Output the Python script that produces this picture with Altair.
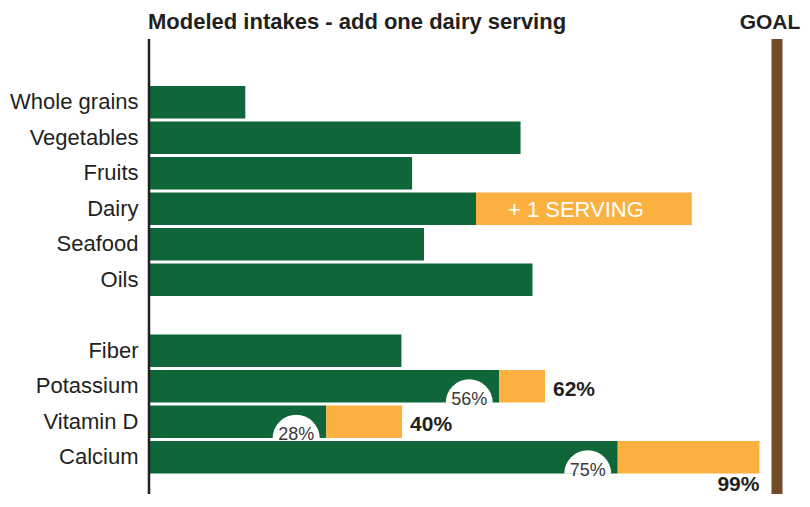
import math
import altair as alt
import pandas as pd

# ---- data ----
categories = ["Whole grains", "Vegetables", "Fruits", "Dairy", "Seafood", "Oils", " ",
              "Fiber", "Potassium", "Vitamin D", "Calcium"]
current = [15.2, 59.1, 41.8, 52.0, 43.7, 61.0, None, 40.1, 55.7, 28.1, 74.6]
with_dairy = [None, None, None, 86.4, None, None, None, None, 63.0, 40.2, 97.2]
current_labels = ["", "", "", "", "", "", "", "", "56%", "28%", "75%"]
total_labels = ["", "", "", "+ 1 SERVING", "", "", "", "", "62%", "40%", "99%"]
label_kind = ["", "", "", "inside", "", "", "", "", "right", "right", "below"]
goal_value = [100]

title_text = "Modeled intakes - add one dairy serving"
goal_text = "GOAL"

GREEN = "#0f6638"
ORANGE = "#fbb040"
BROWN = "#754c29"
DARK = "#231f20"
FONT = "Liberation Sans"

df = pd.DataFrame({
    "cat": categories,
    "current": current,
    "total": with_dairy,
    "clab": current_labels,
    "tlab": total_labels,
    "kind": label_kind,
})
df = df[df["cat"] != " "]
df["mid"] = (df["current"] + df["total"]) / 2

W, H = 627, 486
STEP = 35.5
TOP = 76.5
xscale = alt.Scale(domain=[0, 100], nice=False, zero=True)
yscale = alt.Scale(domain=categories, range=[TOP, TOP + 11 * STEP],
                   paddingInner=3 / STEP, paddingOuter=1.5 / STEP)

Y = alt.Y("cat:N", scale=yscale, sort=None,
          axis=alt.Axis(title=None, domain=False, ticks=False, labelPadding=12,
                        labelFont=FONT, labelFontSize=22, labelColor=DARK,
                        labelLimit=0, grid=False))
Xc = alt.X("current:Q", scale=xscale, axis=None)
Xt = alt.X("total:Q", scale=xscale, axis=None)

base = alt.Chart(df)

green = base.mark_bar(color=GREEN).encode(x=Xc, y=Y)

orange = base.transform_filter("isValid(datum.total)").mark_bar(color=ORANGE).encode(
    x=Xc, x2="total:Q", y=Y)

arcs = base.transform_filter("datum.clab != ''").mark_arc(
    color="white", radius=23.5, theta=3 * math.pi / 2, theta2=5 * math.pi / 2,
    xOffset=-30, yOffset=16.5).encode(x=Xc, y=Y)

clabels = base.transform_filter("datum.clab != ''").mark_text(
    font=FONT, fontSize=18, color="#3a3a3a", align="center", baseline="alphabetic",
    dx=-30, dy=18.5).encode(x=Xc, y=Y, text="clab:N")

right_labels = base.transform_filter("datum.kind == 'right'").mark_text(
    font=FONT, fontSize=21, fontWeight="bold", color=DARK, align="left",
    baseline="alphabetic", dx=8, dy=9.5).encode(x=Xt, y=Y, text="tlab:N")

below_labels = base.transform_filter("datum.kind == 'below'").mark_text(
    font=FONT, fontSize=21, fontWeight="bold", color=DARK, align="right",
    baseline="alphabetic", dx=0, dy=34).encode(x=Xt, y=Y, text="tlab:N")

inside_labels = base.transform_filter("datum.kind == 'inside'").mark_text(
    font=FONT, fontSize=22, color="white", align="center",
    baseline="alphabetic", dx=-8, dy=8.5).encode(
    x=alt.X("mid:Q", scale=xscale, axis=None), y=Y, text="tlab:N")

goal_df = pd.DataFrame({"goal": goal_value, "label": [goal_text]})
goal_bar = alt.Chart(goal_df).mark_rule(color=BROWN, strokeWidth=11).encode(
    x=alt.X("goal:Q", scale=xscale, axis=None), y=alt.value(31), y2=alt.value(H))
goal_label = alt.Chart(goal_df).mark_text(
    font=FONT, fontSize=21, fontWeight="bold", color=DARK, align="center",
    baseline="alphabetic", dx=-7).encode(
    x=alt.X("goal:Q", scale=xscale, axis=None), y=alt.value(20.7), text="label:N")

axis_line = alt.Chart(goal_df).mark_rule(color=DARK, strokeWidth=2.5).encode(
    x=alt.value(-1), y=alt.value(31), y2=alt.value(H))

title_df = pd.DataFrame({"t": [title_text]})
title = alt.Chart(title_df).mark_text(
    font=FONT, fontSize=22, fontWeight="bold", color=DARK, align="left",
    baseline="alphabetic").encode(x=alt.value(-2), y=alt.value(20.7), text="t:N")

chart = alt.layer(
    green, orange, arcs, clabels, right_labels, below_labels, inside_labels,
    goal_bar, goal_label, axis_line, title
).properties(
    width=W, height=H,
    autosize=alt.AutoSizeParams(type="none"),
    padding={"left": 142, "top": 0, "right": 25, "bottom": 0},
).configure_view(stroke=None)

chart.save("out.html", embed_options={"renderer": "svg", "actions": False})
